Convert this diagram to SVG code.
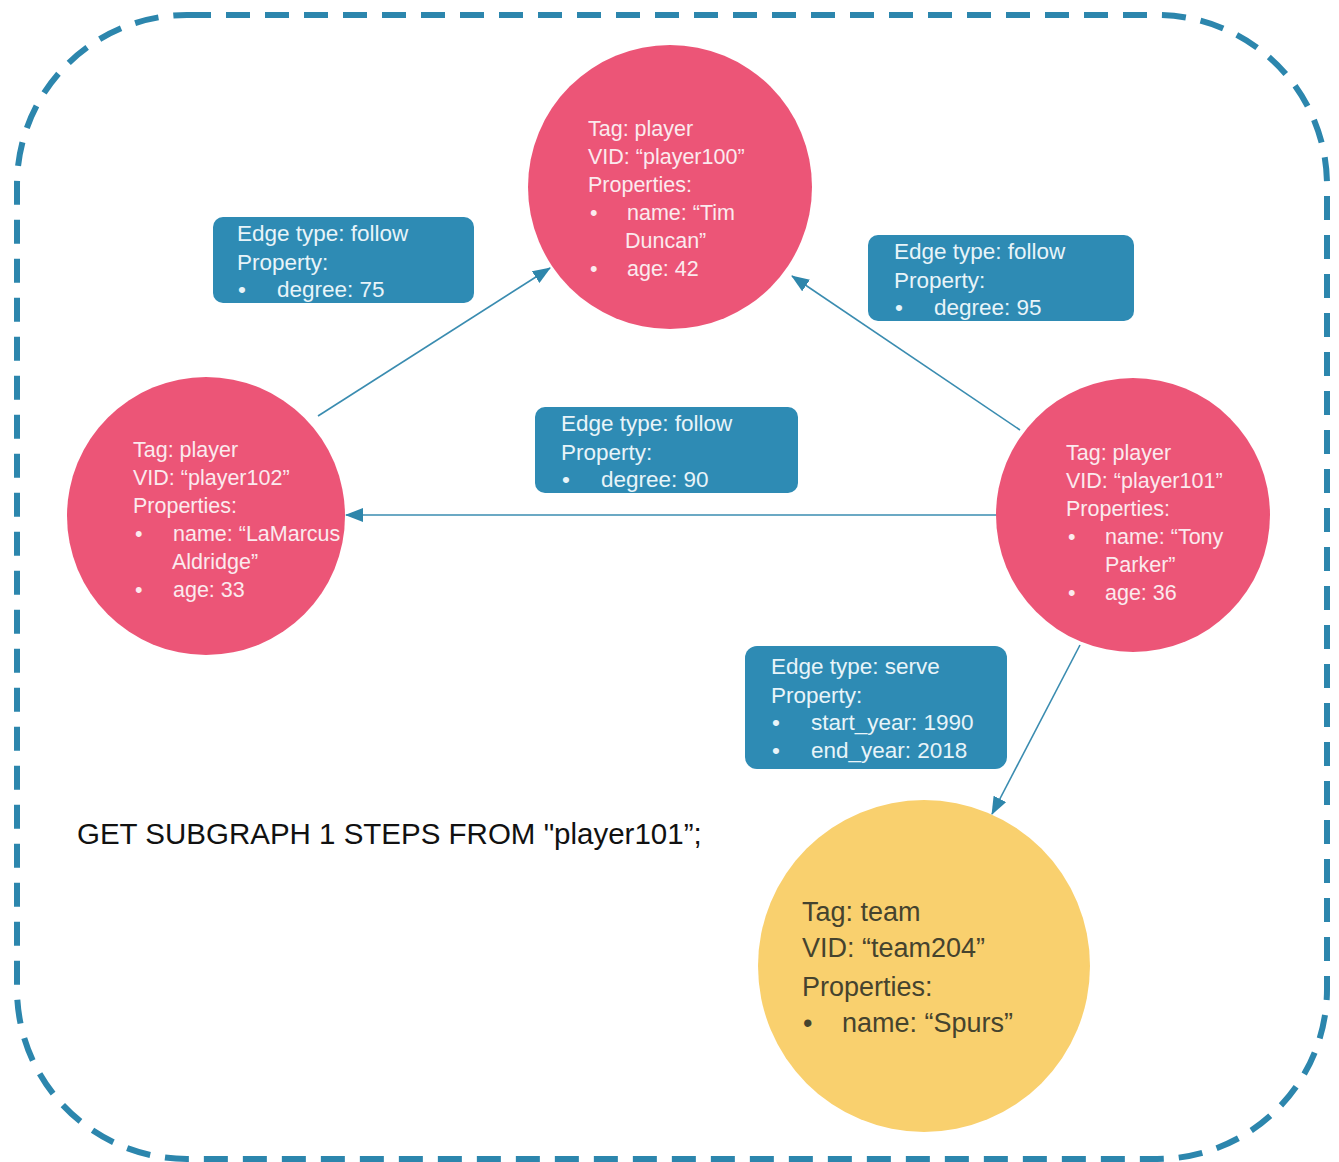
<svg xmlns="http://www.w3.org/2000/svg" width="1339" height="1162" viewBox="0 0 1339 1162">
<style>
.border{fill:none;stroke:#2C86AD;stroke-width:6;stroke-dasharray:24 15}
.player{fill:#EC5577}
.team{fill:#F9D06E}
.box{fill:#2E8BB4}
.ptxt{font-family:"Liberation Sans",Arial,sans-serif;font-size:21.5px;fill:#FBEAEE}
.btxt{font-family:"Liberation Sans",Arial,sans-serif;font-size:22.5px;fill:#E8F4F9}
.ttxt{font-family:"Liberation Sans",Arial,sans-serif;font-size:27px;fill:#45432E}
.qtxt{font-family:"Liberation Sans",Arial,sans-serif;font-size:29.5px;fill:#111}
.edge{stroke:#3A8CB0;stroke-width:1.6;fill:none;marker-end:url(#arr)}
</style>
<defs>
<marker id="arr" markerUnits="userSpaceOnUse" markerWidth="18" markerHeight="14" refX="17" refY="7" orient="auto">
<path d="M0,0 L18,7 L0,14 Z" fill="#2E86AB"/>
</marker>
</defs>
<rect width="1339" height="1162" fill="#FFFFFF"/>
<rect class="border" x="17" y="15" width="1310" height="1144" rx="170" ry="170"/>

<g id="connectors">
<line class="edge" x1="318" y1="416" x2="550" y2="268"/>
<line class="edge" x1="1020" y1="430" x2="792" y2="276"/>
<line class="edge" x1="997" y1="515" x2="346" y2="515"/>
<line class="edge" x1="1080" y1="645" x2="992" y2="814"/>
</g>

<g id="player100">
<circle class="player" cx="670" cy="187" r="142"/>
<text class="ptxt" x="588" y="136">Tag: player</text>
<text class="ptxt" x="588" y="164">VID: “player100”</text>
<text class="ptxt" x="588" y="192">Properties:</text>
<text class="ptxt" x="590" y="220">•</text>
<text class="ptxt" x="627" y="220">name: “Tim</text>
<text class="ptxt" x="625" y="248">Duncan”</text>
<text class="ptxt" x="590" y="276">•</text>
<text class="ptxt" x="627" y="276">age: 42</text>
</g>

<g id="player102">
<circle class="player" cx="206" cy="516" r="139"/>
<text class="ptxt" x="133" y="457">Tag: player</text>
<text class="ptxt" x="133" y="485">VID: “player102”</text>
<text class="ptxt" x="133" y="513">Properties:</text>
<text class="ptxt" x="135" y="541">•</text>
<text class="ptxt" x="173" y="541">name: “LaMarcus</text>
<text class="ptxt" x="172" y="569">Aldridge”</text>
<text class="ptxt" x="135" y="597">•</text>
<text class="ptxt" x="173" y="597">age: 33</text>
</g>

<g id="player101">
<circle class="player" cx="1133" cy="515" r="137"/>
<text class="ptxt" x="1066" y="460">Tag: player</text>
<text class="ptxt" x="1066" y="488">VID: “player101”</text>
<text class="ptxt" x="1066" y="516">Properties:</text>
<text class="ptxt" x="1068" y="544">•</text>
<text class="ptxt" x="1105" y="544">name: “Tony</text>
<text class="ptxt" x="1105" y="572">Parker”</text>
<text class="ptxt" x="1068" y="600">•</text>
<text class="ptxt" x="1105" y="600">age: 36</text>
</g>

<g id="team204">
<circle class="team" cx="924" cy="966" r="166"/>
<text class="ttxt" x="802" y="921">Tag: team</text>
<text class="ttxt" x="802" y="957">VID: “team204”</text>
<text class="ttxt" x="802" y="996">Properties:</text>
<text class="ttxt" x="803" y="1032">•</text>
<text class="ttxt" x="842" y="1032">name: “Spurs”</text>
</g>

<g id="edge-label-75">
<rect class="box" x="213" y="217" width="261" height="86" rx="10"/>
<text class="btxt" x="237" y="241">Edge type: follow</text>
<text class="btxt" x="237" y="270">Property:</text>
<text class="btxt" x="238" y="297">•</text>
<text class="btxt" x="277" y="297">degree: 75</text>
</g>

<g id="edge-label-95">
<rect class="box" x="868" y="235" width="266" height="86" rx="10"/>
<text class="btxt" x="894" y="259">Edge type: follow</text>
<text class="btxt" x="894" y="288">Property:</text>
<text class="btxt" x="895" y="315">•</text>
<text class="btxt" x="934" y="315">degree: 95</text>
</g>

<g id="edge-label-90">
<rect class="box" x="535" y="407" width="263" height="86" rx="10"/>
<text class="btxt" x="561" y="431">Edge type: follow</text>
<text class="btxt" x="561" y="460">Property:</text>
<text class="btxt" x="562" y="487">•</text>
<text class="btxt" x="601" y="487">degree: 90</text>
</g>

<g id="edge-label-serve">
<rect class="box" x="745" y="646" width="262" height="123" rx="12"/>
<text class="btxt" x="771" y="674">Edge type: serve</text>
<text class="btxt" x="771" y="703">Property:</text>
<text class="btxt" x="772" y="730">•</text>
<text class="btxt" x="811" y="730">start_year: 1990</text>
<text class="btxt" x="772" y="758">•</text>
<text class="btxt" x="811" y="758">end_year: 2018</text>
</g>

<text class="qtxt" x="77" y="844">GET SUBGRAPH 1 STEPS FROM "player101”;</text>
</svg>
